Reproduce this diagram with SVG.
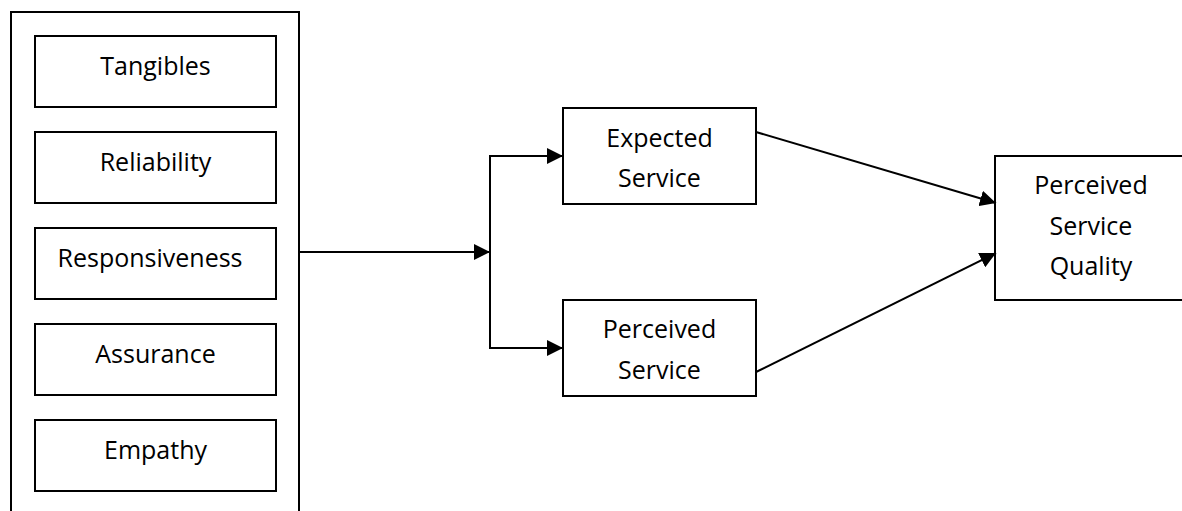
<svg xmlns="http://www.w3.org/2000/svg" width="1182" height="511" viewBox="0 0 1182 511">
  <defs>
    <style>
      .box { fill: #ffffff; stroke: #000000; stroke-width: 2; }
      .lbl { font-family: "Open Sans", "Liberation Sans", sans-serif; font-size: 25px; fill: #000000; text-anchor: middle; }
      .wire { fill: none; stroke: #000000; stroke-width: 2; }
    </style>
    <marker id="arrow" viewBox="0 0 16 16" refX="16" refY="8" markerWidth="16" markerHeight="16" markerUnits="userSpaceOnUse" orient="auto">
      <path d="M0,0 L16,8 L0,16 Z" fill="#000000"/>
    </marker>
  </defs>

  <!-- SERVQUAL dimensions container -->
  <g id="dimensions">
    <rect class="box" x="11" y="12" width="288" height="510"/>
  </g>
  <g id="tangibles">
    <rect class="box" x="35" y="36" width="241" height="71"/>
    <text class="lbl" x="155.5" y="75">Tangibles</text>
  </g>
  <g id="reliability">
    <rect class="box" x="35" y="132" width="241" height="71"/>
    <text class="lbl" x="155.5" y="171">Reliability</text>
  </g>
  <g id="responsiveness">
    <rect class="box" x="35" y="228" width="241" height="71"/>
    <text class="lbl" x="150" y="267">Responsiveness</text>
  </g>
  <g id="assurance">
    <rect class="box" x="35" y="324" width="241" height="71"/>
    <text class="lbl" x="155.5" y="363">Assurance</text>
  </g>
  <g id="empathy">
    <rect class="box" x="35" y="420" width="241" height="71"/>
    <text class="lbl" x="155.5" y="459">Empathy</text>
  </g>

  <g id="expected-service">
    <rect class="box" x="563" y="108" width="193" height="96"/>
    <text class="lbl" x="659.5" y="147">Expected</text>
    <text class="lbl" x="659.5" y="187">Service</text>
  </g>
  <g id="perceived-service">
    <rect class="box" x="563" y="300" width="193" height="96"/>
    <text class="lbl" x="659.5" y="338">Perceived</text>
    <text class="lbl" x="659.5" y="379">Service</text>
  </g>
  <g id="perceived-service-quality">
    <rect class="box" x="995" y="156" width="192" height="144"/>
    <text class="lbl" x="1091" y="194">Perceived</text>
    <text class="lbl" x="1091" y="235">Service</text>
    <text class="lbl" x="1091" y="275">Quality</text>
  </g>

  <g id="connectors">
    <line class="wire" x1="299" y1="252" x2="490" y2="252" marker-end="url(#arrow)"/>
    <line class="wire" x1="490" y1="156" x2="490" y2="348"/>
    <line class="wire" x1="489" y1="156" x2="563" y2="156" marker-end="url(#arrow)"/>
    <line class="wire" x1="489" y1="348" x2="563" y2="348" marker-end="url(#arrow)"/>
    <line class="wire" x1="756" y1="132" x2="996" y2="203" marker-end="url(#arrow)"/>
    <line class="wire" x1="756" y1="372" x2="996" y2="253" marker-end="url(#arrow)"/>
  </g>
</svg>
